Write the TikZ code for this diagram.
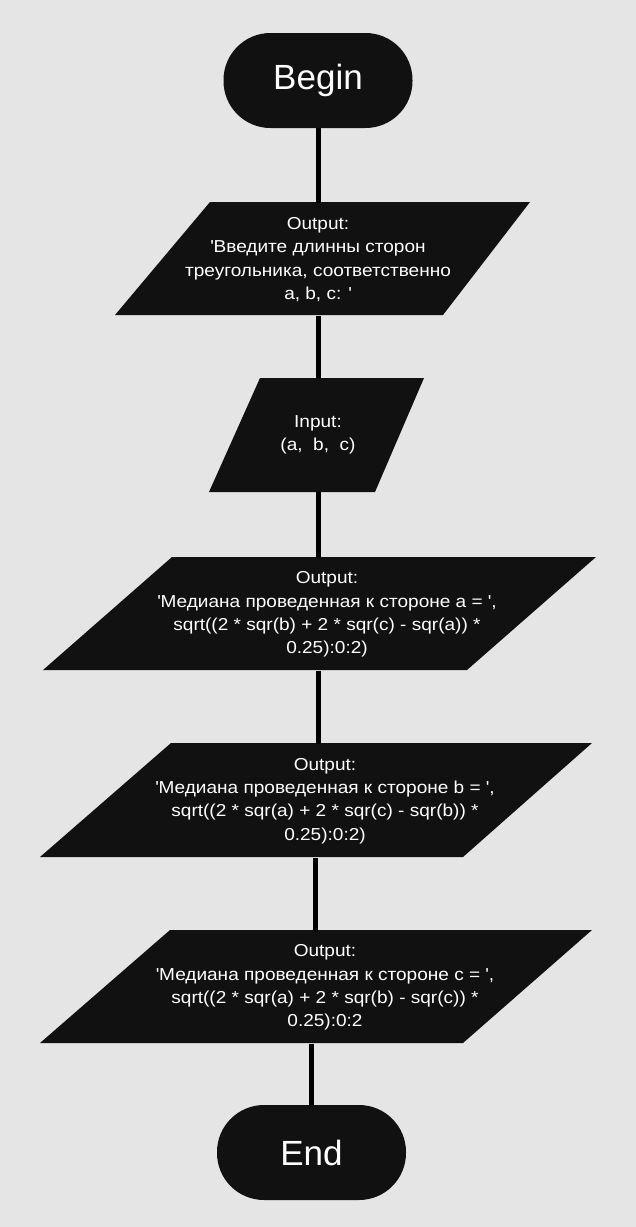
\documentclass[tikz,border=0pt]{standalone}
\usepackage{fontspec}
\setmainfont{Liberation Sans}
\newfontfamily\iofont{Liberation Sans}[FakeStretch=1.1]
\usetikzlibrary{calc}

\definecolor{bgcol}{HTML}{E5E5E5}
\definecolor{blockcol}{HTML}{111111}

\tikzset{
  terminal/.style={fill=blockcol, text=white, rounded corners=47pt, minimum width=189pt, minimum height=95pt, inner sep=0pt, font=\fontsize{35}{40}\selectfont},
  iobox/.style={text=white, align=center, inner sep=0pt, font=\iofont\fontsize{17.3}{23.3}\selectfont},
  link/.style={black, line width=5pt},
}

\begin{document}
\begin{tikzpicture}[x=1pt,y=-1pt]

\fill[bgcol] (0,0) rectangle (636,1227);
\useasboundingbox (0,0) rectangle (636,1227);

% parallelograms
\fill[blockcol] (210,202) -- (530,202) -- (443,315) -- (115,315) -- cycle;
\fill[blockcol] (260,378) -- (424,378) -- (375,492) -- (209,492) -- cycle;
\fill[blockcol] (172,557) -- (596,557) -- (467,670) -- (43,670) -- cycle;
\fill[blockcol] (171,743) -- (592,743) -- (463,857) -- (40,857) -- cycle;
\fill[blockcol] (170,930) -- (592,930) -- (463,1043) -- (40,1043) -- cycle;

\node[terminal] (begin) at (318,80.5) {Begin};

\node[iobox, minimum height=113pt] (out1) at (318,259.5)
  {Output:\\\textquotesingle Введите длинны сторон\\треугольника, соответственно\\a, b, c: \textquotesingle};
\node[iobox, minimum height=114pt] (inp) at (318,435)
  {Input:\\(a,~ b,~ c)};
\node[iobox, minimum height=113pt] (out2) at (327,614.5)
  {Output:\\\textquotesingle Медиана проведенная к стороне a = \textquotesingle,\\sqrt((2 * sqr(b) + 2 * sqr(c) - sqr(a)) *\\0.25):0:2)};
\node[iobox, minimum height=114pt] (out3) at (325,801)
  {Output:\\\textquotesingle Медиана проведенная к стороне b = \textquotesingle,\\sqrt((2 * sqr(a) + 2 * sqr(c) - sqr(b)) *\\0.25):0:2)};
\node[iobox, minimum height=113pt] (out4) at (325,987.5)
  {Output:\\\textquotesingle Медиана проведенная к стороне c = \textquotesingle,\\sqrt((2 * sqr(a) + 2 * sqr(b) - sqr(c)) *\\0.25):0:2};

\node[terminal] (end) at (311.5,1152.5) {End};

% connectors
\draw[link] (begin) -- (out1);
\draw[link] (out1) -- (inp);
\draw[link] (inp.south) -- (inp.south |- out2.north);
\draw[link] ([xshift=-9pt]out2.south) -- ([xshift=-9pt]out2.south |- out3.north);
\draw[link] ([xshift=-10pt]out3.south) -- ([xshift=-10pt]out3.south |- out4.north);
\draw[link] (end |- out4.south) -- (end);

\end{tikzpicture}
\end{document}
